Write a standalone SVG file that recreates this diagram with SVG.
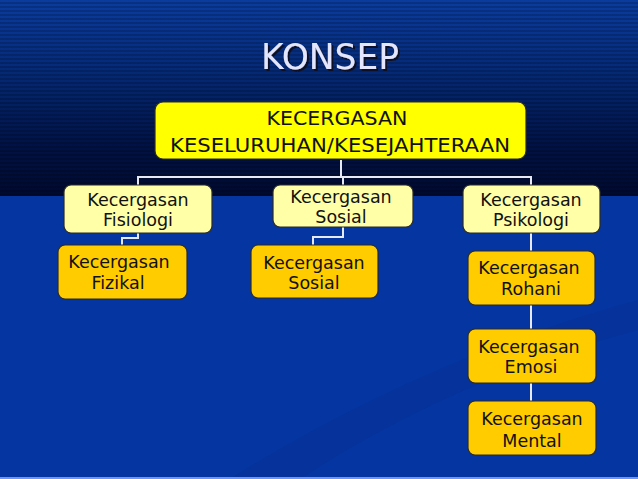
<svg xmlns="http://www.w3.org/2000/svg" width="638" height="479" viewBox="0 0 638 479">
<defs>
<linearGradient id="topg" x1="0" y1="0" x2="0" y2="1">
<stop offset="0" stop-color="#0a3c9e"/>
<stop offset="0.35" stop-color="#052a78"/>
<stop offset="0.75" stop-color="#001244"/>
<stop offset="1" stop-color="#000a30"/>
</linearGradient>
<pattern id="stripes" width="4" height="4" patternUnits="userSpaceOnUse">
<rect x="0" y="2" width="4" height="2" fill="#000000" opacity="0.18"/>
</pattern>
<filter id="shadow" x="-10%" y="-20%" width="130%" height="150%">
<feDropShadow dx="2" dy="2" stdDeviation="0.6" flood-color="#0a0a1a" flood-opacity="0.9"/>
</filter>
<style>
.l1{fill:#ffff00;stroke:#2a2a2a;stroke-width:1.2}
.l2{fill:#ffffa8;stroke:#2a2a2a;stroke-width:1.2}
.l3{fill:#ffcc00;stroke:#2a2a2a;stroke-width:1.2}
.t{font-family:"DejaVu Sans",sans-serif;fill:#111111;text-anchor:middle}
.t18{font-size:19px}
.t17{font-size:17.5px}
.conn{fill:none;stroke:#e6e8f2;stroke-width:2}
.title{font-family:"DejaVu Sans",sans-serif;font-size:35px;text-anchor:middle;fill:#e4e6ff}
</style>
</defs>
<rect x="0" y="0" width="638" height="479" fill="#0435a0"/>
<rect x="0" y="0" width="638" height="196" fill="url(#topg)"/>
<rect x="0" y="0" width="638" height="196" fill="url(#stripes)"/>
<path d="M230 479 Q420 360 638 300 L638 330 Q450 380 300 479 Z" fill="#0a2a8a" opacity="0.25"/>
<rect x="0" y="477" width="638" height="2" fill="#6e96ee"/>
<g id="title">
<text class="title" x="330" y="69" textLength="138" lengthAdjust="spacingAndGlyphs" filter="url(#shadow)">KONSEP</text>
</g>
<g id="connectors">
<path class="conn" d="M341 160 V177 M138 185 V177 H531 V185 M343 177 V185"/>
<path class="conn" d="M138 233 V238 H122 V245"/>
<path class="conn" d="M343 227 V237 H313 V245"/>
<path class="conn" d="M531 233 V251 M531 305 V329 M531 383 V401"/>
</g>
<g id="n-top">
<rect class="l1" x="155" y="102" width="371" height="57" rx="8"/>
<text class="t t18" x="337" y="125" textLength="141" lengthAdjust="spacingAndGlyphs">KECERGASAN</text>
<text class="t t18" x="340" y="152" textLength="340" lengthAdjust="spacingAndGlyphs">KESELURUHAN/KESEJAHTERAAN</text>
</g>
<g id="n-fisiologi">
<rect class="l2" x="64" y="185" width="148" height="48" rx="7"/>
<text class="t t17" x="138" y="206">Kecergasan</text>
<text class="t t17" x="138" y="226">Fisiologi</text>
</g>
<g id="n-sosial2">
<rect class="l2" x="273" y="185" width="140" height="42" rx="7"/>
<text class="t t17" x="341" y="203">Kecergasan</text>
<text class="t t17" x="341" y="223">Sosial</text>
</g>
<g id="n-psikologi">
<rect class="l2" x="463" y="185" width="137" height="48" rx="7"/>
<text class="t t17" x="531" y="206">Kecergasan</text>
<text class="t t17" x="531" y="226">Psikologi</text>
</g>
<g id="n-fizikal">
<rect class="l3" x="58" y="245" width="129" height="54" rx="7"/>
<text class="t t17" x="119" y="268">Kecergasan</text>
<text class="t t17" x="118" y="289">Fizikal</text>
</g>
<g id="n-sosial3">
<rect class="l3" x="251" y="245" width="127" height="53" rx="7"/>
<text class="t t17" x="314" y="269">Kecergasan</text>
<text class="t t17" x="314" y="289">Sosial</text>
</g>
<g id="n-rohani">
<rect class="l3" x="468" y="251" width="127" height="54" rx="7"/>
<text class="t t17" x="529" y="274">Kecergasan</text>
<text class="t t17" x="531" y="295">Rohani</text>
</g>
<g id="n-emosi">
<rect class="l3" x="468" y="329" width="128" height="54" rx="7"/>
<text class="t t17" x="529" y="353">Kecergasan</text>
<text class="t t17" x="531" y="373">Emosi</text>
</g>
<g id="n-mental">
<rect class="l3" x="468" y="401" width="128" height="54" rx="7"/>
<text class="t t17" x="532" y="425">Kecergasan</text>
<text class="t t17" x="532" y="447">Mental</text>
</g>
</svg>
